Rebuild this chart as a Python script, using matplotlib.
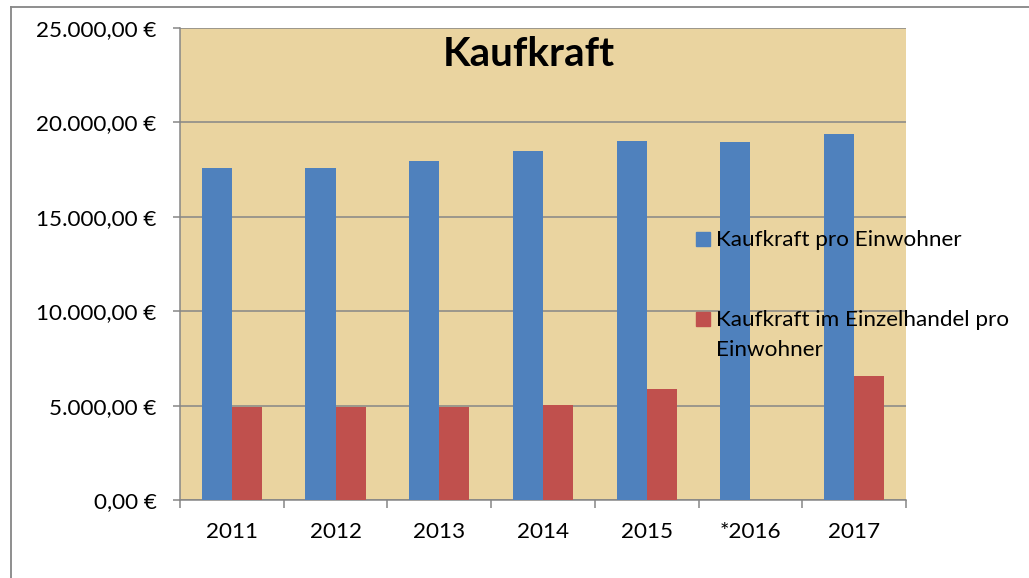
import matplotlib
matplotlib.use("Agg")
import matplotlib.pyplot as plt
from matplotlib.lines import Line2D
from matplotlib.patches import Rectangle
import numpy as np

plt.rcParams['font.family'] = ['Lato', 'DejaVu Sans']

years = ["2011", "2012", "2013", "2014", "2015", "*2016", "2017"]
kaufkraft = [17600, 17600, 17950, 18500, 19000, 18950, 19400]
einzelhandel = [4900, 4900, 4900, 5050, 5900, 0, 6550]
series_names = ["Kaufkraft pro Einwohner", "Kaufkraft im Einzelhandel pro\nEinwohner"]
title = "Kaufkraft"
yticks = [0, 5000, 10000, 15000, 20000, 25000]

BLUE = "#4F81BD"
RED = "#C0504D"
GRID = "#868686"
BG = "#EAD4A0"
FS = 16.2

W, H = 1029, 578
fig = plt.figure(figsize=(W / 100, H / 100), dpi=100)
fig.patch.set_facecolor("white")

def fx(px):
    return px / W

def fy(py):
    return 1 - py / H

ax = fig.add_axes([fx(180), fy(500), fx(906) - fx(180), fy(28) - fy(500)])
ax.set_facecolor(BG)

x = np.arange(len(years))
bw = 0.29
ax.bar(x - bw / 2, kaufkraft, width=bw, color=BLUE, zorder=3)
ax.bar(x + bw / 2, einzelhandel, width=bw, color=RED, zorder=3)

ax.set_xlim(-0.5, len(years) - 0.5)
ax.set_ylim(0, 25000)
ax.set_yticks(yticks)
ax.set_yticklabels([f"{v:,.2f}".replace(",", "X").replace(".", ",").replace("X", ".") + " €" for v in yticks])
ax.yaxis.grid(True, color=GRID, linewidth=1.1, zorder=1)
ax.set_axisbelow(True)

# category boundary ticks, labels at centers
ax.set_xticks(np.arange(-0.5, len(years), 1.0))
ax.set_xticklabels([])
ax.set_xticks(x, minor=True)
ax.set_xticklabels(years, minor=True)
ax.tick_params(axis="x", which="major", length=5.8, width=1.1, color=GRID)
ax.tick_params(axis="x", which="minor", length=0, pad=16, labelsize=FS)
ax.tick_params(axis="y", length=5, width=1.1, color=GRID, pad=12, labelsize=FS)

for s in ["top", "right"]:
    ax.spines[s].set_visible(False)
for s in ["left", "bottom"]:
    ax.spines[s].set_color(GRID)
    ax.spines[s].set_linewidth(1.1)

# title inside plot area
fig.text(fx(529), fy(55), title, ha="center", va="center", fontsize=29, fontweight="bold", color="black")

# legend (manual)
sq = 14
fig.patches.append(Rectangle((fx(696), fy(246)), sq / W, sq / H, transform=fig.transFigure, color=BLUE, figure=fig))
fig.patches.append(Rectangle((fx(696), fy(326)), sq / W, sq / H, transform=fig.transFigure, color=RED, figure=fig))
fig.text(fx(716), fy(240), series_names[0], ha="left", va="center", fontsize=FS)
fig.text(fx(716), fy(320), series_names[1].split("\n")[0], ha="left", va="center", fontsize=FS)
fig.text(fx(716), fy(350), series_names[1].split("\n")[1], ha="left", va="center", fontsize=FS)

# outer chart frame
fig.add_artist(Line2D([fx(11), fx(11)], [fy(7), 0], transform=fig.transFigure, color=GRID, linewidth=1.3))
fig.add_artist(Line2D([fx(11), 1], [fy(7), fy(7)], transform=fig.transFigure, color=GRID, linewidth=1.3))

fig.savefig("out.png", dpi=100)
